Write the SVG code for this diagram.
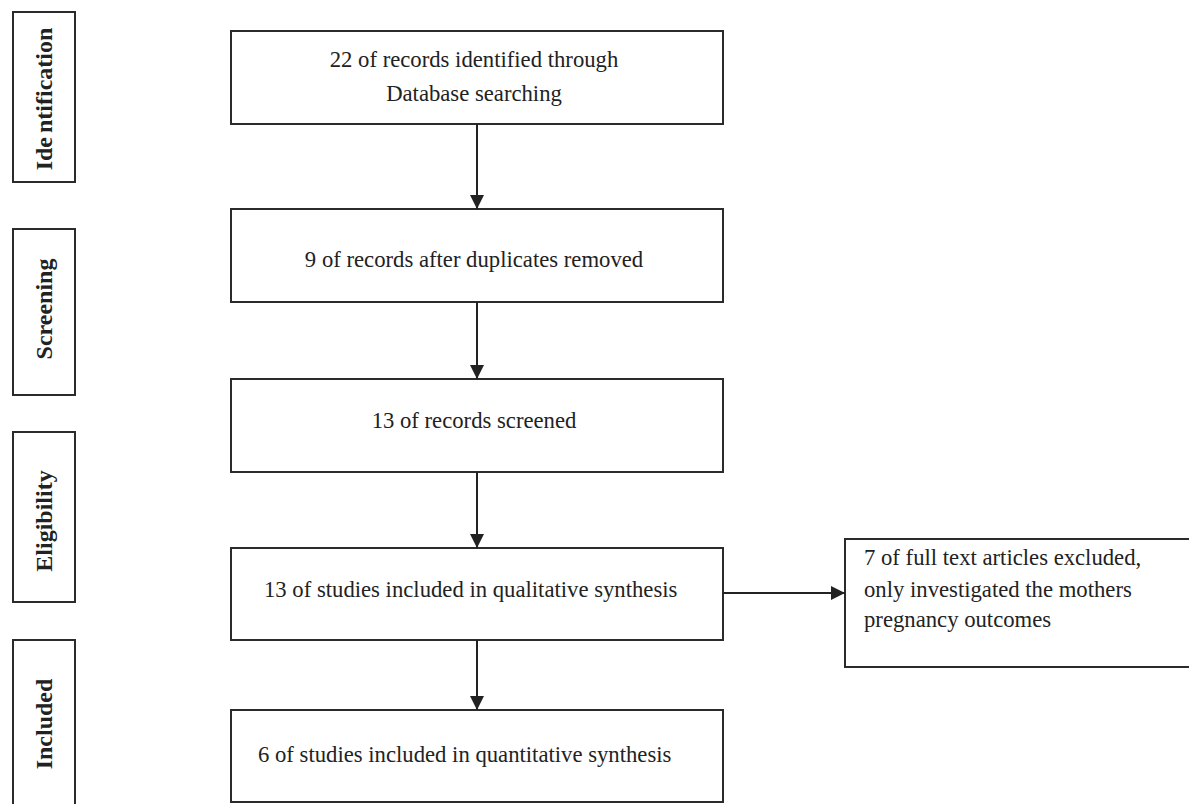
<svg xmlns="http://www.w3.org/2000/svg" width="1189" height="804" viewBox="0 0 1189 804">
<style>
.box{fill:#fff;stroke:#2b2b2b;stroke-width:2}
.t{font-family:"Liberation Serif","Times New Roman",serif;font-size:22.7px;fill:#222}
.c{text-anchor:middle}
.lbl{font-family:"Liberation Serif","Times New Roman",serif;font-size:24px;font-weight:bold;fill:#222;text-anchor:middle}
.ln{stroke:#222;stroke-width:2;fill:none;marker-end:url(#arr)}
</style>
<defs>
<marker id="arr" markerUnits="userSpaceOnUse" markerWidth="15" markerHeight="15" refX="14" refY="7" orient="auto">
<path d="M0,0 L14,7 L0,14 z" fill="#222"/>
</marker>
</defs>
<rect width="1189" height="804" fill="#fff"/>
<g id="stage-identification">
<rect class="box" x="13" y="12" width="62" height="170"/>
<text class="lbl" transform="translate(52,99) rotate(-90)">Ide<tspan dx="4">ntification</tspan></text>
</g>
<g id="stage-screening">
<rect class="box" x="13" y="229" width="62" height="166"/>
<text class="lbl" transform="translate(52,309) rotate(-90)">Screening</text>
</g>
<g id="stage-eligibility">
<rect class="box" x="13" y="432" width="62" height="170"/>
<text class="lbl" transform="translate(52,521) rotate(-90)">Eligibility</text>
</g>
<g id="stage-included">
<rect class="box" x="13" y="640" width="62" height="200"/>
<text class="lbl" transform="translate(52,724) rotate(-90)">Included</text>
</g>
<g id="n1">
<rect class="box" x="231" y="31" width="492" height="93"/>
<text class="t c" x="474" y="67">22 of records identified through</text>
<text class="t c" x="474" y="101">Database searching</text>
</g>
<g id="n2">
<rect class="box" x="231" y="209" width="492" height="93"/>
<text class="t c" x="474" y="267">9 of records after duplicates removed</text>
</g>
<g id="n3">
<rect class="box" x="231" y="379" width="492" height="93"/>
<text class="t c" x="474" y="428">13 of records screened</text>
</g>
<g id="n4">
<rect class="box" x="231" y="548" width="492" height="92"/>
<text class="t" x="264" y="597">13 of studies included in qualitative synthesis</text>
</g>
<g id="n5">
<rect class="box" x="231" y="710" width="492" height="92"/>
<text class="t" x="258" y="762">6 of studies included in quantitative synthesis</text>
</g>
<g id="n6">
<rect class="box" x="845" y="539" width="360" height="128"/>
<text class="t" x="864" y="565">7  of full text articles excluded,</text>
<text class="t" x="864" y="597">only investigated the mothers</text>
<text class="t" x="864" y="627">pregnancy outcomes</text>
</g>
<g id="connectors">
<line class="ln" x1="477" y1="124" x2="477" y2="209"/>
<line class="ln" x1="477" y1="302" x2="477" y2="379"/>
<line class="ln" x1="477" y1="472" x2="477" y2="548"/>
<line class="ln" x1="477" y1="640" x2="477" y2="710"/>
<line class="ln" x1="723" y1="593" x2="845" y2="593"/>
</g>
</svg>
